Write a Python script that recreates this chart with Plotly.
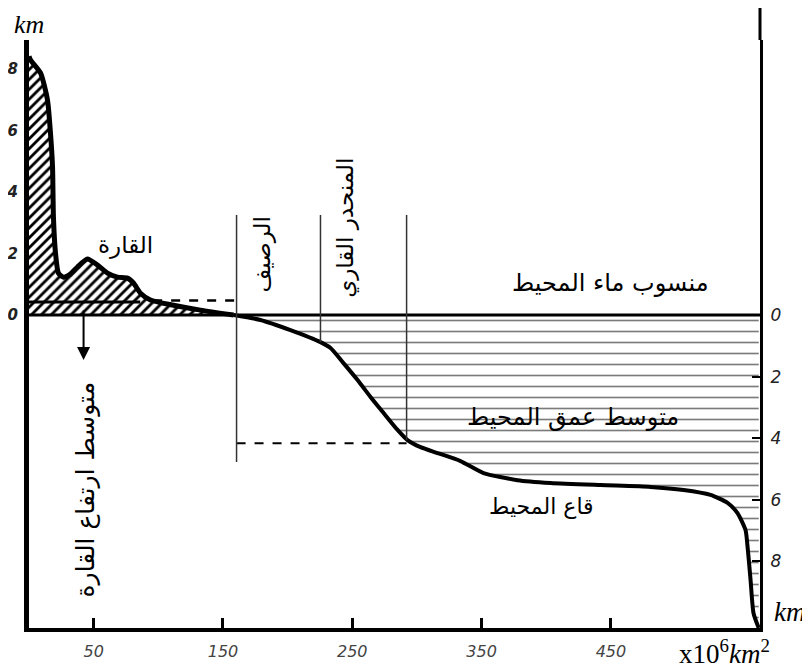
import plotly.graph_objects as go

# ---- data (area in 10^6 km^2, elevation in km) ----
land_x = [0, 1.2, 8.9, 14.3, 16.6, 18.2, 18.9, 20.5, 22.8, 26.7, 32, 37.5, 45.2, 53,
          60.7, 68.4, 76.2, 80.8, 86.2, 93.9, 111.8, 132.6, 158.2]
land_y = [8.4, 8.28, 7.86, 6.98, 5.91, 4.81, 3.18, 2.01, 1.36, 1.23, 1.33, 1.56, 1.82, 1.62,
          1.36, 1.23, 1.20, 1.04, 0.71, 0.49, 0.32, 0.16, 0.0]
ocean_x = [158.2, 179, 202.2, 225.4, 233.2, 243.2, 254.1, 264.1, 274.2, 285, 292.7, 302.8,
           315.9, 333.7, 351.5, 377.8, 403.3, 442, 480.7, 506.2, 527, 540.2, 547.9, 554.1,
           555.7, 558, 560.3, 564.3]
ocean_y = [0, -0.16, -0.49, -0.88, -1.07, -1.56, -2.11, -2.66, -3.18, -3.73, -4.06, -4.29,
           -4.48, -4.74, -5.13, -5.36, -5.45, -5.52, -5.58, -5.68, -5.84, -6.10, -6.43, -6.98,
           -7.53, -8.6, -9.68, -10.16]

x_ticks = [50, 150, 250, 350, 450]
height_ticks = [0, 2, 4, 6, 8]
depth_ticks = [0, 2, 4, 6, 8]

zone_bounds = [160.5, 225.4, 292.0]   # shelf / slope boundaries
zone_bottoms = [-4.77, -0.88, -4.06]
zone_top = 3.25
mean_land_height = 0.42
mean_land_solid_end = 86
mean_ocean_depth = -4.16
x_max = 565.3
y_range = [-10.16, 8.93]

AR = "DejaVu Sans"
SERIF = "Liberation Serif"

fig = go.Figure()

# land (hatched)
fig.add_trace(go.Scatter(
    x=land_x, y=land_y, mode="lines", fill="tozeroy",
    line=dict(color="black", width=5, shape="spline", smoothing=0.6),
    fillcolor="white",
    fillpattern=dict(shape="/", fgcolor="black", bgcolor="white", size=7, solidity=0.4),
    hoverinfo="skip", showlegend=False))

# ocean (dashed water)
fig.add_trace(go.Scatter(
    x=ocean_x, y=ocean_y, mode="lines", fill="tozeroy",
    line=dict(color="black", width=4, shape="spline", smoothing=0.6),
    fillcolor="white",
    fillpattern=dict(shape="-", fgcolor="#333333", bgcolor="white", size=11, solidity=0.15,
                     fgopacity=0.65),
    hoverinfo="skip", showlegend=False))

# sea level line
fig.add_trace(go.Scatter(x=[0, x_max], y=[0, 0], mode="lines",
                         line=dict(color="black", width=3), hoverinfo="skip", showlegend=False))
# mean land elevation
fig.add_trace(go.Scatter(x=[0, mean_land_solid_end], y=[mean_land_height] * 2, mode="lines",
                         line=dict(color="black", width=3), hoverinfo="skip", showlegend=False))
fig.add_trace(go.Scatter(x=[mean_land_solid_end + 10, zone_bounds[0]], y=[mean_land_height + 0.05] * 2,
                         mode="lines", line=dict(color="black", width=2.5, dash="dash"),
                         hoverinfo="skip", showlegend=False))
# mean ocean depth
fig.add_trace(go.Scatter(x=[zone_bounds[0], zone_bounds[2]], y=[mean_ocean_depth] * 2,
                         mode="lines", line=dict(color="black", width=2, dash="dash"),
                         hoverinfo="skip", showlegend=False))

# zone boundaries (vertical thin lines)
for xb, yb in zip(zone_bounds, zone_bottoms):
    fig.add_trace(go.Scatter(x=[xb, xb], y=[zone_top, yb], mode="lines",
                             line=dict(color="#333333", width=1.5),
                             hoverinfo="skip", showlegend=False))

# dummy trace for the right (depth) axis
fig.add_trace(go.Scatter(x=[None], y=[None], yaxis="y2", showlegend=False, hoverinfo="skip"))

ann = []
def txt(x, y, t, size=21, angle=0):
    ann.append(dict(x=x, y=y, xref="x", yref="y", text=t, showarrow=False, textangle=angle,
                    xanchor="center", yanchor="middle",
                    font=dict(family=AR, size=size, color="black")))

txt(74.7, 2.27, "القارة", 23)
txt(180.6, 1.95, "الرصيف", 23, -90)
txt(244.8, 2.82, "المنحدر القاري", 23, -90)
txt(449.7, 1.04, "منسوب ماء المحيط", 24)
txt(421, -3.31, "متوسط عمق المحيط", 24)
txt(396.4, -6.23, "قاع المحيط", 22)
txt(43.7, -5.68, "متوسط ارتفاع القارة", 25, -90)

# arrow from mean land elevation
ann.append(dict(x=42.2, y=-1.46, ax=42.2, ay=mean_land_height, xref="x", yref="y",
                axref="x", ayref="y", showarrow=True, arrowhead=2, arrowsize=1.3,
                arrowwidth=2, arrowcolor="black", text=" ",
                font=dict(size=10)))

# unit labels
ann.append(dict(x=0.0, y=620 / 588, xref="paper", yref="paper", text="<i>km</i>", showarrow=False,
                xanchor="center", yanchor="top",
                font=dict(family=SERIF, size=26, color="black")))
ann.append(dict(x=1.041, y=0.027, xref="paper", yref="paper", text="<i>km</i>", showarrow=False,
                xanchor="center", yanchor="middle",
                font=dict(family=SERIF, size=27, color="black")))
ann.append(dict(x=0.952, y=-0.040, xref="paper", yref="paper",
                text="x10<sup>6</sup><i>km</i><sup>2</sup>", showarrow=False,
                xanchor="center", yanchor="middle",
                font=dict(family=SERIF, size=27, color="black")))

# the page body adds an 8px offset, so the figure is drawn 8px smaller
fig.update_layout(
    template="none",
    width=802, height=660,
    margin=dict(l=21, r=50, t=32, b=40),
    paper_bgcolor="white", plot_bgcolor="white",
    showlegend=False,
    annotations=ann,
    xaxis=dict(range=[0, x_max], tickvals=x_ticks, ticktext=[str(v) for v in x_ticks],
               ticks="inside", ticklen=10, tickwidth=3, tickcolor="black",
               showline=True, linewidth=4, linecolor="black", showgrid=False, zeroline=False,
               automargin=False, ticklabelstandoff=6,
               tickfont=dict(family="DejaVu Sans", size=16, color="#444", style="italic")),
    yaxis=dict(range=y_range, tickvals=height_ticks, ticktext=[str(v) for v in height_ticks],
               ticks="", showline=True, linewidth=5, linecolor="black", showgrid=False,
               zeroline=False, automargin=False, ticklabelstandoff=3,
               tickfont=dict(family="DejaVu Sans", size=15, color="#222", style="italic",
                             weight="bold")),
    yaxis2=dict(range=[-y_range[0], -y_range[1]], overlaying="y", side="right",
                tickvals=depth_ticks, ticktext=[str(v) for v in depth_ticks],
                ticks="inside", ticklen=8, tickwidth=2, tickcolor="black",
                showline=True, linewidth=3, linecolor="black", showgrid=False,
                zeroline=False, automargin=False, ticklabelstandoff=4,
                tickfont=dict(family="DejaVu Sans", size=17, color="#222", style="italic")),
    shapes=[dict(type="line", xref="paper", yref="paper", x0=1.0, x1=1.0, y0=1.0, y1=620 / 588,
                 line=dict(color="black", width=3))],
)

fig.write_html("out.html")
